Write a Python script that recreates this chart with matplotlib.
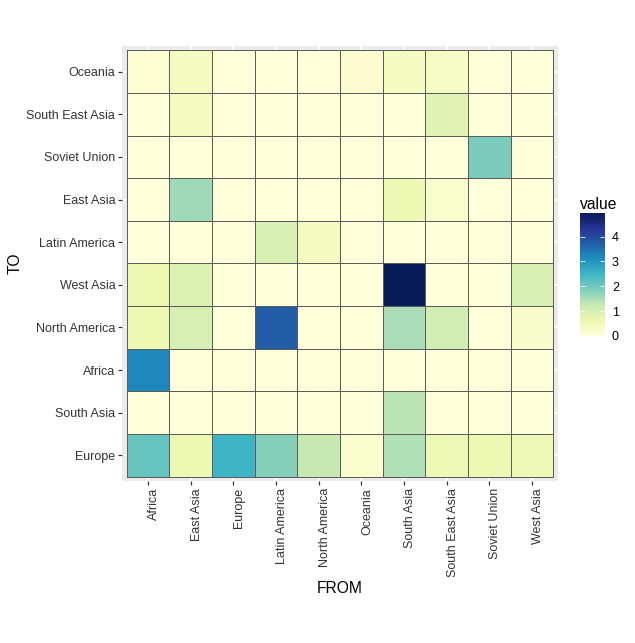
import numpy as np
import matplotlib
matplotlib.use("Agg")
import matplotlib.pyplot as plt

plt.rcParams['font.family'] = ['Liberation Sans', 'DejaVu Sans']

from_regions = ["Africa", "East Asia", "Europe", "Latin America", "North America",
                "Oceania", "South Asia", "South East Asia", "Soviet Union", "West Asia"]
# rows listed bottom to top
to_regions = ["Europe", "South Asia", "Africa", "North America", "West Asia",
              "Latin America", "East Asia", "Soviet Union", "South East Asia", "Oceania"]

# values[row][col], rows follow to_regions (bottom to top), cols follow from_regions
val_europe        = [2.1, 0.6, 2.5, 1.8, 1.25, 0.2, 1.45, 0.55, 0.65, 0.55]
val_south_asia    = [0.0, 0.0, 0.0, 0.0, 0.0, 0.0, 1.35, 0.0, 0.0, 0.0]
val_africa        = [3.2, 0.0, 0.0, 0.0, 0.0, 0.0, 0.0, 0.0, 0.0, 0.0]
val_north_america = [0.6, 1.0, 0.0, 3.75, 0.0, 0.0, 1.5, 1.1, 0.0, 0.25]
val_west_asia     = [0.65, 0.9, 0.0, 0.0, 0.0, 0.0, 4.95, 0.0, 0.0, 1.0]
val_latin_america = [0.0, 0.0, 0.0, 0.95, 0.4, 0.0, 0.0, 0.0, 0.0, 0.0]
val_east_asia     = [0.0, 1.6, 0.0, 0.0, 0.0, 0.0, 0.6, 0.2, 0.0, 0.0]
val_soviet_union  = [0.0, 0.0, 0.0, 0.0, 0.0, 0.0, 0.0, 0.0, 1.9, 0.0]
val_se_asia       = [0.0, 0.4, 0.0, 0.0, 0.0, 0.0, 0.0, 0.85, 0.0, 0.0]
val_oceania       = [0.12, 0.4, 0.0, 0.0, 0.0, 0.15, 0.4, 0.35, 0.0, 0.0]

values = np.array([val_europe, val_south_asia, val_africa, val_north_america, val_west_asia,
                   val_latin_america, val_east_asia, val_soviet_union, val_se_asia, val_oceania])

W, H = 635, 643
fig = plt.figure(figsize=(W / 100, H / 100), dpi=100)
fig.patch.set_facecolor("white")

px = 72 / 100  # px -> pt
k = 1.42       # scale of the reference rendering

L, R, T, B = 122.4, 557.5, 46.0, 481.0
ax = fig.add_axes([L / W, 1 - B / H, (R - L) / W, (B - T) / H])
ax.set_facecolor("#ebebeb")

n = len(from_regions)
m = len(to_regions)
xe = np.arange(n + 1) - 0.5
ye = np.arange(m + 1) - 0.5
vmax = values.max()
mesh = ax.pcolormesh(xe, ye, values, cmap="YlGnBu", vmin=0, vmax=vmax,
                     edgecolors="#5c5c5c", linewidth=0.6, zorder=3)

ax.set_xlim(-0.6, n - 0.4)
ax.set_ylim(-0.6, m - 0.4)
ax.set_xticks(np.arange(n))
ax.set_xticklabels(from_regions, rotation=90, ha="left", va="top")
ax.set_yticks(np.arange(m))
ax.set_yticklabels(to_regions)
ax.grid(True, color="white", linewidth=1.07 * px * k, zorder=1)
ax.set_axisbelow(True)
for s in ax.spines.values():
    s.set_visible(False)
ax.tick_params(axis="both", colors="#333333", length=2.75 * px * k, width=1.07 * px * k * 0.8,
               labelsize=8.8 * px * k, labelcolor="#333333", pad=2.2 * px * k)
ax.set_xlabel("FROM", fontsize=11 * px * k, color="black", labelpad=2.75 * px * k)
ax.set_ylabel("TO", fontsize=11 * px * k, color="black", labelpad=2.75 * px * k)

# colourbar
cax = fig.add_axes([580 / W, 1 - 336 / H, 25 / W, 123 / H])
cb = fig.colorbar(mesh, cax=cax)
cb.outline.set_visible(False)
cb.set_ticks([0, 1, 2, 3, 4])
cax.tick_params(axis="y", which="both", direction="in", length=5 * px, width=0.8 * px,
                colors="white", left=True, right=True, labelleft=False, labelright=True,
                labelsize=8.8 * px * k, labelcolor="black", pad=7 * px)
fig.text(580 / W, 1 - 209 / H, "value", fontsize=11 * px * k, color="black",
         ha="left", va="baseline")

fig.savefig("out.png", dpi=100)
